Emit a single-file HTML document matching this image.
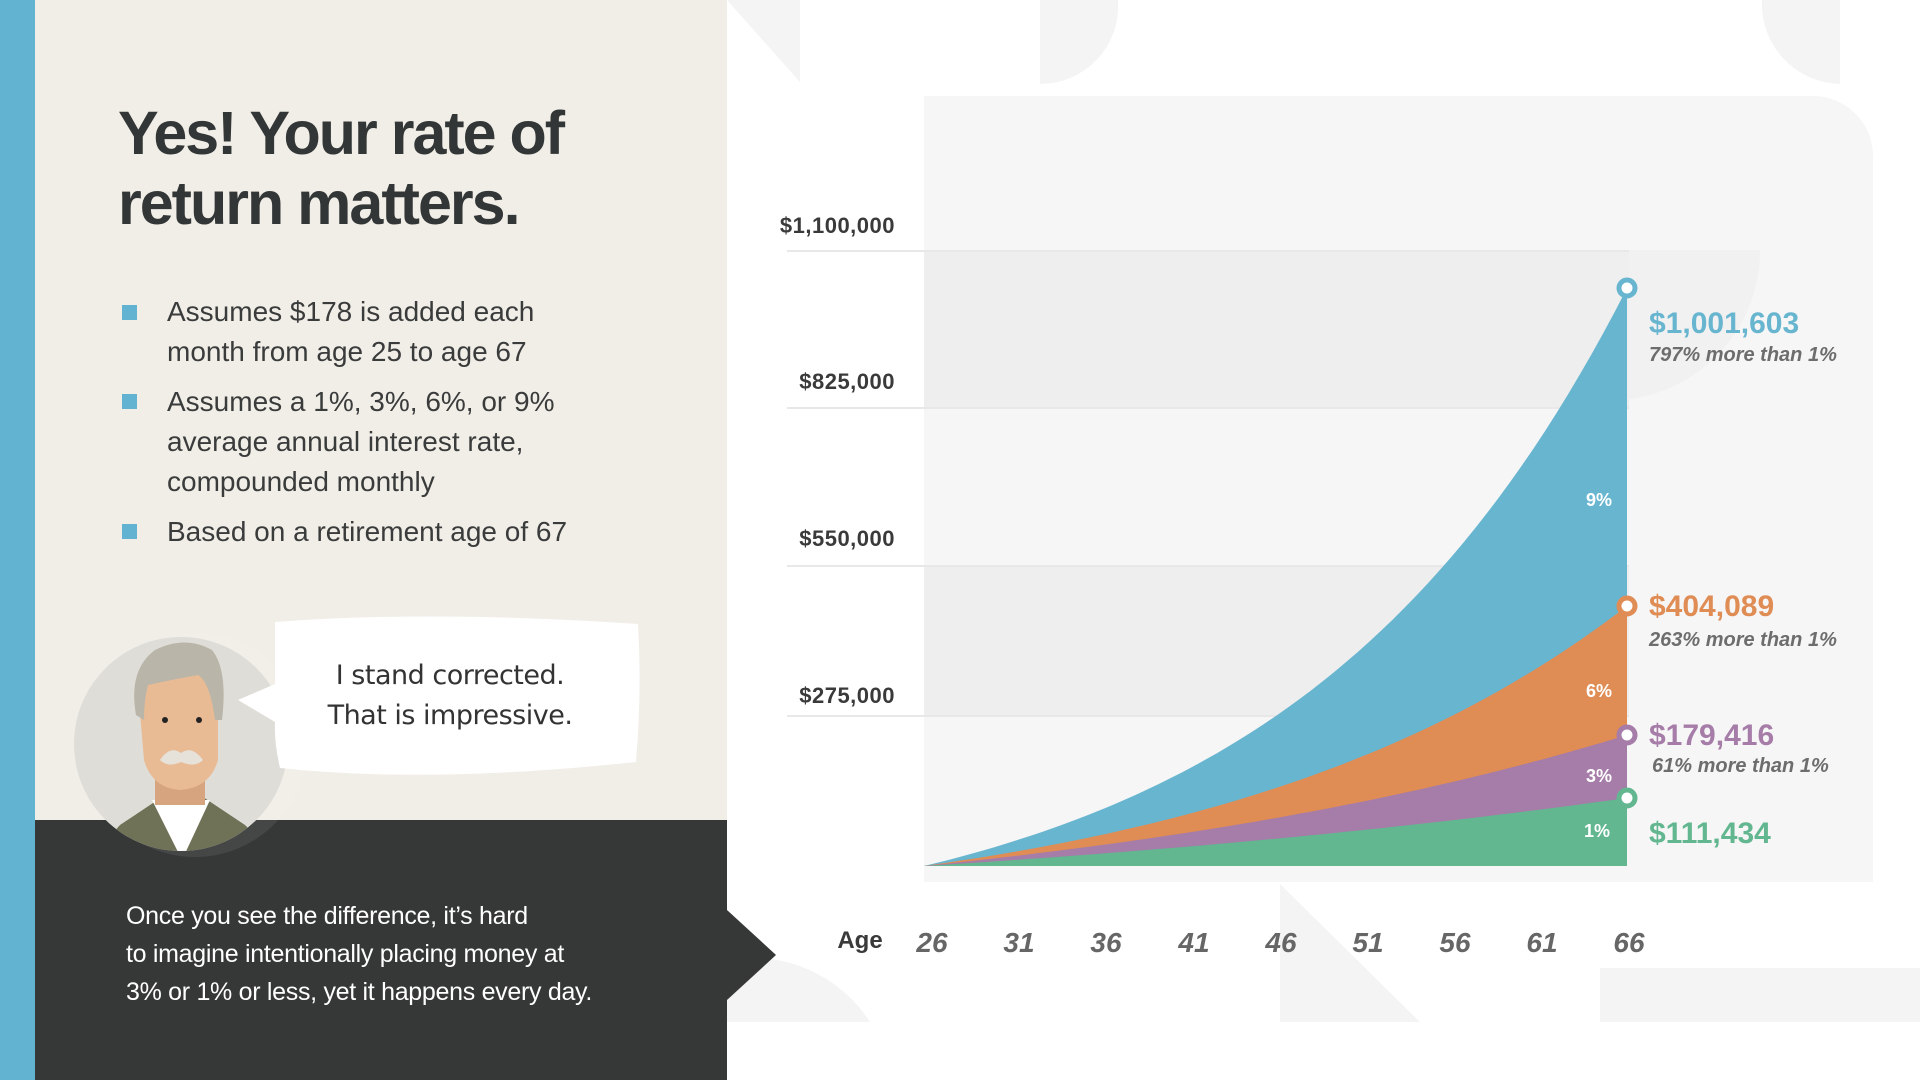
<!DOCTYPE html>
<html><head><meta charset="utf-8"><style>
*{margin:0;padding:0;box-sizing:border-box}
body{width:1920px;height:1080px;overflow:hidden;background:#fff;font-family:"Liberation Sans",sans-serif;position:relative}
.abs{position:absolute}
</style></head><body>
<svg class="abs" style="left:0;top:0" width="1920" height="1080">
<polygon points="727,0 800,0 800,82" fill="#f4f4f4"/>
<path d="M1040,0 L1118,0 A78,78 0 0 1 1040,84 Z" fill="#f4f4f4"/>
<path d="M1762,0 L1840,0 L1840,84 A80,80 0 0 1 1762,0 Z" fill="#f4f4f4"/>
<polygon points="1280,884 1420,1022 1280,1022" fill="#f4f4f4"/>
<rect x="1600" y="968" width="320" height="54" fill="#f4f4f4"/>
<path d="M727,960 A140,140 0 0 1 870,1022 L727,1022 Z" fill="#f4f4f4"/>
</svg>
<div class="abs" style="left:0;top:0;width:35px;height:1080px;background:#62b3d1"></div>
<div class="abs" style="left:35px;top:0;width:692px;height:820px;background:#f1eee8"></div>
<div class="abs" style="left:35px;top:820px;width:692px;height:260px;background:#363838"></div>
<svg class="abs" style="left:727px;top:910px" width="50" height="90"><polygon points="0,0 49,45 0,90" fill="#363838"/></svg>

<div class="abs" style="left:118px;top:98px;font-size:61px;font-weight:bold;color:#333636;line-height:70px;letter-spacing:-2px">Yes! Your rate of<br>return matters.</div>

<div class="abs" style="left:0;top:0;font-size:28px;color:#3a3b3b;">
<div class="abs" style="left:122px;top:305px;width:15px;height:15px;background:#62b3d1"></div>
<div class="abs" style="left:122px;top:394px;width:15px;height:15px;background:#62b3d1"></div>
<div class="abs" style="left:122px;top:524px;width:15px;height:15px;background:#62b3d1"></div>
<div class="abs" style="left:167px;top:292px;line-height:40px;white-space:nowrap">Assumes $178 is added each<br>month from age 25 to age 67</div>
<div class="abs" style="left:167px;top:382px;line-height:40px;white-space:nowrap">Assumes a 1%, 3%, 6%, or 9%<br>average annual interest rate,<br>compounded monthly</div>
<div class="abs" style="left:167px;top:512px;line-height:40px;white-space:nowrap">Based on a retirement age of 67</div>
</div>

<svg class="abs" style="left:60px;top:620px" width="260" height="260">
<defs><clipPath id="c"><circle cx="121" cy="124" r="107"/></clipPath></defs>
<circle cx="135" cy="125" r="112" fill="rgba(255,255,255,0.08)"/>
<circle cx="121" cy="124" r="107" fill="#dfddd8"/>
<g clip-path="url(#c)">
<path d="M20,250 L60,205 L105,175 L140,175 L185,205 L230,250 Z" fill="#6f7257"/>
<path d="M92,180 L122,240 L150,180 Z" fill="#fff"/>
<rect x="95" y="140" width="50" height="45" fill="#d6a47e"/>
</g>
<path d="M78,70 Q80,30 120,28 Q165,32 158,80 L158,140 Q150,168 120,170 Q92,168 84,140 Z" fill="#e9bb95"/>
<path d="M76,95 Q68,50 95,30 Q125,15 152,30 Q168,50 162,100 L155,100 Q150,62 138,55 Q110,60 88,65 Q84,80 84,100 Z" fill="#b9b5a8"/>
<circle cx="105" cy="100" r="3" fill="#222"/><circle cx="139" cy="100" r="3" fill="#222"/>
<path d="M100,140 Q110,125 121,133 Q132,125 143,140 Q135,148 121,142 Q108,148 100,140Z" fill="#e6e2da"/>
</svg>
<svg class="abs" style="left:230px;top:612px" width="420" height="170">
<path d="M45,10 Q200,-2 408,12 Q412,80 406,150 Q200,172 50,156 Q44,130 45,110 L8,88 L45,72 Z" fill="#fff"/>
</svg>
<div class="abs" style="left:290px;top:656px;width:320px;text-align:center;font-size:27px;line-height:40px;color:#333;font-family:'DejaVu Sans',sans-serif;letter-spacing:-0.5px">I stand corrected.<br>That is impressive.</div>

<div class="abs" style="left:126px;top:897px;font-size:25px;line-height:38px;color:#fff;letter-spacing:-0.3px;white-space:nowrap">Once you see the difference, it’s hard<br>to imagine intentionally placing money at<br>3% or 1% or less, yet it happens every day.</div>

<svg class="abs" style="left:0;top:0" width="1920" height="1080" id="ch">
<path d="M924,96 L1813,96 A60,60 0 0 1 1873,156 L1873,882 L924,882 Z" fill="#f6f6f6"/>
<rect x="924" y="251" width="705" height="157" fill="#eeeeee"/>
<rect x="924" y="566" width="705" height="150" fill="#eeeeee"/>
<path d="M1600,250 L1760,250 A150,150 0 0 1 1620,400 L1600,400Z" fill="#efefef" opacity="0.7"/>
<g stroke="#e8e8e8" stroke-width="2">
<line x1="787" y1="251" x2="1629" y2="251"/><line x1="787" y1="408" x2="1629" y2="408"/>
<line x1="787" y1="566" x2="1629" y2="566"/><line x1="787" y1="716" x2="1629" y2="716"/>
</g>
<g font-size="22" fill="#3a3a3a" text-anchor="end" font-weight="bold" letter-spacing="0.5">
<text x="895" y="233">$1,100,000</text><text x="895" y="389">$825,000</text>
<text x="895" y="546">$550,000</text><text x="895" y="703">$275,000</text>
</g>
<path id="p9" fill="#68b5d0"/><path id="p6" fill="#df8c55"/><path id="p3" fill="#a67ca8"/><path id="p1" fill="#62b690"/>
<g fill="#fff" stroke-width="5">
<circle cx="1627" cy="288" r="8" stroke="#68b5d0"/><circle cx="1627" cy="606" r="8" stroke="#df8c55"/>
<circle cx="1627" cy="735" r="8" stroke="#a67ca8"/><circle cx="1627" cy="798" r="8" stroke="#62b690"/>
</g>
<g fill="#fff" font-weight="bold" font-size="18" text-anchor="middle">
<text x="1599" y="506">9%</text><text x="1599" y="697">6%</text><text x="1599" y="782">3%</text><text x="1597" y="837">1%</text>
</g>
<g font-weight="bold" font-size="30">
<text x="1649" y="333" fill="#68b5d0">$1,001,603</text>
<text x="1649" y="616" fill="#df8c55">$404,089</text>
<text x="1649" y="745" fill="#a67ca8">$179,416</text>
<text x="1649" y="843" fill="#62b690">$111,434</text>
</g>
<g font-weight="bold" font-style="italic" font-size="20" fill="#6d6d6d">
<text x="1649" y="361">797% more than 1%</text>
<text x="1649" y="646">263% more than 1%</text>
<text x="1652" y="772">61% more than 1%</text>
</g>
<text x="860" y="948" font-size="24" font-weight="bold" fill="#3a3a3a" text-anchor="middle">Age</text>
<g font-size="28" font-style="italic" font-weight="bold" fill="#666" text-anchor="middle">
<text x="932" y="952">26</text><text x="1019" y="952">31</text><text x="1106" y="952">36</text>
<text x="1194" y="952">41</text><text x="1281" y="952">46</text><text x="1368" y="952">51</text>
<text x="1455" y="952">56</text><text x="1542" y="952">61</text><text x="1629" y="952">66</text>
</g>
</svg>
<script>
function mk(id,top,k){var x0=924,x1=1627,b=866,d="M"+x0+","+b;
for(var i=1;i<=60;i++){var t=i/60,f=(Math.exp(k*t)-1)/(Math.exp(k)-1);d+=" L"+(x0+(x1-x0)*t).toFixed(1)+","+(b-(b-top)*f).toFixed(1);}
d+=" L"+x1+","+b+" Z";document.getElementById(id).setAttribute("d",d);}
mk("p9",288,2.1);mk("p6",606,1.7);mk("p3",735,1.1);mk("p1",798,0.8);
</script>
</body></html>
